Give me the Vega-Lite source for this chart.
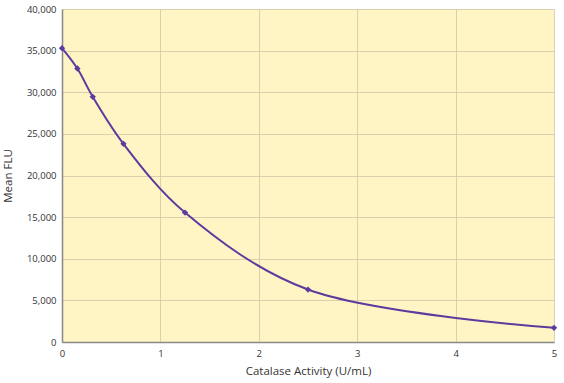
{
  "$schema": "https://vega.github.io/schema/vega-lite/v6.json",
  "width": 492,
  "height": 333,
  "autosize": {"type": "none"},
  "padding": {"left": 62, "top": 9, "right": 10, "bottom": 41},
  "background": "white",
  "config": {
    "view": {"fill": "#FFF4C4", "stroke": null},
    "font": "Open Sans",
    "axis": {
      "labelFont": "Open Sans",
      "titleFont": "Open Sans",
      "labelFontSize": 9.5,
      "titleFontSize": 11.5,
      "titleFontWeight": "normal",
      "labelColor": "#333333",
      "titleColor": "#333333",
      "gridColor": "#CFC7A8",
      "gridWidth": 0.8,
      "domainColor": "#888888",
      "domainWidth": 1.5,
      "ticks": false,
      "labelFlush": false
    }
  },
  "data": {
    "values": [
      {"x": 0, "y": 35300},
      {"x": 0.156, "y": 32850},
      {"x": 0.3125, "y": 29450},
      {"x": 0.625, "y": 23800},
      {"x": 1.25, "y": 15550},
      {"x": 2.5, "y": 6300},
      {"x": 5, "y": 1700}
    ]
  },
  "encoding": {
    "x": {
      "field": "x", "type": "quantitative",
      "scale": {"domain": [0, 5], "nice": false},
      "axis": {"values": [0, 1, 2, 3, 4, 5], "format": "d", "title": "Catalase Activity (U/mL)", "labelPadding": 6, "titlePadding": 8}
    },
    "y": {
      "field": "y", "type": "quantitative",
      "scale": {"domain": [0, 40000], "nice": false},
      "axis": {"values": [0, 5000, 10000, 15000, 20000, 25000, 30000, 35000, 40000], "format": ",d", "title": "Mean FLU", "labelPadding": 6, "titlePadding": 13}
    }
  },
  "layer": [
    {
      "mark": {"type": "line", "interpolate": "catmull-rom", "color": "#5B3C9E", "strokeWidth": 2}
    },
    {
      "mark": {"type": "point", "shape": "diamond", "filled": true, "color": "#5B3C9E", "size": 40, "opacity": 1}
    }
  ]
}
